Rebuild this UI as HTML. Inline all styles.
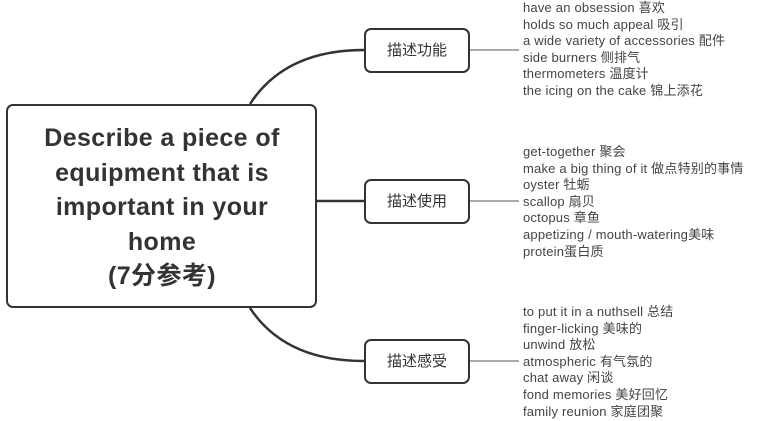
<!DOCTYPE html>
<html><head><meta charset="utf-8"><style>
body{margin:0;background:#fff;width:764px;height:421px;overflow:hidden;position:relative;font-family:"Liberation Sans","Noto Sans CJK SC",sans-serif;color:#333}
.main{position:absolute;left:6px;top:104px;width:307px;height:200px;border:2.5px solid #333;border-radius:7px;box-sizing:content-box}
.mt{position:absolute;left:6px;top:121px;width:312px;text-align:center;font-weight:bold;font-size:25px;letter-spacing:0.4px;line-height:34.5px;color:#333}
.b{position:absolute;left:364px;width:102px;height:41px;border:2.5px solid #333;border-radius:7px;font-size:15px;line-height:41px;text-align:center}
.l{position:absolute;left:523px;font-size:13px;letter-spacing:0.2px;line-height:16.6px;color:#444;white-space:nowrap}
</style></head><body>
<svg width="764" height="421" style="position:absolute;left:0;top:0">
<g fill="none" stroke="#333" stroke-width="2.5">
<path d="M250 104 Q285 50 364 50"/>
<path d="M250 308 Q285 361 364 361"/>
<path d="M317 201 L364 201"/>
</g>
<g stroke="#555" stroke-width="1">
<path d="M469 50 H519"/><path d="M469 201 H519"/><path d="M469 361 H519"/>
</g>
</svg>
<div class="main"></div>
<div class="mt">Describe a piece of<br>equipment that is<br>important in your<br>home<br>(7分参考)</div>
<div class="b" style="top:28px">描述功能</div>
<div class="b" style="top:179px">描述使用</div>
<div class="b" style="top:339px">描述感受</div>
<div class="l" style="top:0px">have an obsession 喜欢<br>holds so much appeal 吸引<br>a wide variety of accessories 配件<br>side burners 侧排气<br>thermometers 温度计<br>the icing on the cake 锦上添花</div>
<div class="l" style="top:144px">get-together 聚会<br>make a big thing of it 做点特别的事情<br>oyster 牡蛎<br>scallop 扇贝<br>octopus 章鱼<br>appetizing / mouth-watering美味<br>protein蛋白质</div>
<div class="l" style="top:304px">to put it in a nuthsell 总结<br>finger-licking 美味的<br>unwind 放松<br>atmospheric 有气氛的<br>chat away 闲谈<br>fond memories 美好回忆<br>family reunion 家庭团聚</div>
</body></html>
